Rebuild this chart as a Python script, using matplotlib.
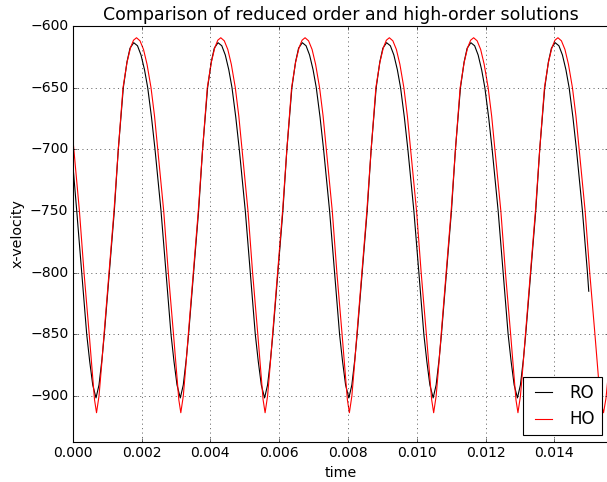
import numpy as np
import matplotlib
matplotlib.use("Agg")
import matplotlib.pyplot as plt

# time in ms (converted to s when plotting)
t_ro_ms = [0.000, 0.117, 0.262, 0.407, 0.494, 0.582,
           0.677, 0.764, 0.851, 0.918, 1.064, 1.209, 1.325, 1.471, 1.578, 1.665, 1.773,
           1.883, 1.985, 2.087, 2.180, 2.290, 2.392, 2.567, 2.712, 2.857, 2.944, 3.032,
           3.127, 3.214, 3.301, 3.368, 3.514, 3.659, 3.775, 3.921, 4.028, 4.115, 4.223,
           4.333, 4.435, 4.537, 4.630, 4.740, 4.842, 5.017, 5.162, 5.307, 5.394, 5.482,
           5.577, 5.664, 5.751, 5.818, 5.964, 6.109, 6.225, 6.371, 6.478, 6.565, 6.673,
           6.783, 6.885, 6.987, 7.080, 7.190, 7.292, 7.467, 7.612, 7.757, 7.844, 7.932,
           8.027, 8.114, 8.201, 8.268, 8.414, 8.559, 8.675, 8.821, 8.928, 9.015, 9.123,
           9.233, 9.335, 9.437, 9.530, 9.640, 9.742, 9.917, 10.062, 10.207, 10.294, 10.382,
           10.477, 10.564, 10.651, 10.718, 10.864, 11.009, 11.125, 11.271, 11.378, 11.465, 11.573,
           11.683, 11.785, 11.887, 11.980, 12.090, 12.192, 12.367, 12.512, 12.657, 12.744, 12.832,
           12.927, 13.014, 13.101, 13.168, 13.314, 13.459, 13.575, 13.721, 13.828, 13.915, 14.023,
           14.133, 14.235, 14.337, 14.430, 14.540, 14.642, 14.817, 14.962, 15.000]
v_ro = [-711, -750, -800, -850, -872, -891,
        -901.5, -891, -870, -850, -800, -750, -700, -650, -629, -618, -613.5,
        -616, -623.5, -635.5, -650, -674, -700, -750, -800, -850, -872, -891,
        -901.5, -891, -870, -850, -800, -750, -700, -650, -629, -618, -613.5,
        -616, -623.5, -635.5, -650, -674, -700, -750, -800, -850, -872, -891,
        -901.5, -891, -870, -850, -800, -750, -700, -650, -629, -618, -613.5,
        -616, -623.5, -635.5, -650, -674, -700, -750, -800, -850, -872, -891,
        -901.5, -891, -870, -850, -800, -750, -700, -650, -629, -618, -613.5,
        -616, -623.5, -635.5, -650, -674, -700, -750, -800, -850, -872, -891,
        -901.5, -891, -870, -850, -800, -750, -700, -650, -629, -618, -613.5,
        -616, -623.5, -635.5, -650, -674, -700, -750, -800, -850, -872, -891,
        -901.5, -891, -870, -850, -800, -750, -700, -650, -629, -618, -613.5,
        -616, -623.5, -635.5, -650, -674, -700, -750, -800, -815]

t_ho_ms = [0.000, 0.195, 0.329, 0.480, 0.576, 0.634,
           0.692, 0.764, 0.837, 0.910, 1.055, 1.200, 1.325, 1.462, 1.578, 1.680, 1.767, 1.854,
           1.956, 2.058, 2.160, 2.276, 2.378, 2.471, 2.645, 2.779, 2.930, 3.026, 3.084,
           3.142, 3.214, 3.287, 3.360, 3.505, 3.650, 3.775, 3.912, 4.028, 4.130, 4.217, 4.304,
           4.406, 4.508, 4.610, 4.726, 4.828, 4.921, 5.095, 5.229, 5.380, 5.476, 5.534,
           5.592, 5.664, 5.737, 5.810, 5.955, 6.100, 6.225, 6.362, 6.478, 6.580, 6.667, 6.754,
           6.856, 6.958, 7.060, 7.176, 7.278, 7.371, 7.545, 7.679, 7.830, 7.926, 7.984,
           8.042, 8.114, 8.187, 8.260, 8.405, 8.550, 8.675, 8.812, 8.928, 9.030, 9.117, 9.204,
           9.306, 9.408, 9.510, 9.626, 9.728, 9.821, 9.995, 10.129, 10.280, 10.376, 10.434,
           10.492, 10.564, 10.637, 10.710, 10.855, 11.000, 11.125, 11.262, 11.378, 11.480, 11.567, 11.654,
           11.756, 11.858, 11.960, 12.076, 12.178, 12.271, 12.445, 12.579, 12.730, 12.826, 12.884,
           12.942, 13.014, 13.087, 13.160, 13.305, 13.450, 13.575, 13.712, 13.828, 13.930, 14.017, 14.104,
           14.206, 14.308, 14.410, 14.526, 14.628, 14.721, 14.895, 15.029, 15.180, 15.276, 15.334,
           15.430, 15.500, 15.560]
v_ho = [-690, -750, -800, -850, -883, -903,
        -913.5, -900, -876, -850, -800, -750, -700, -650, -629.5, -617.5, -611.5, -609.5,
        -612, -619, -631, -650, -673, -700, -750, -800, -850, -883, -903,
        -913.5, -900, -876, -850, -800, -750, -700, -650, -629.5, -617.5, -611.5, -609.5,
        -612, -619, -631, -650, -673, -700, -750, -800, -850, -883, -903,
        -913.5, -900, -876, -850, -800, -750, -700, -650, -629.5, -617.5, -611.5, -609.5,
        -612, -619, -631, -650, -673, -700, -750, -800, -850, -883, -903,
        -913.5, -900, -876, -850, -800, -750, -700, -650, -629.5, -617.5, -611.5, -609.5,
        -612, -619, -631, -650, -673, -700, -750, -800, -850, -883, -903,
        -913.5, -900, -876, -850, -800, -750, -700, -650, -629.5, -617.5, -611.5, -609.5,
        -612, -619, -631, -650, -673, -700, -750, -800, -850, -883, -903,
        -913.5, -900, -876, -850, -800, -750, -700, -650, -629.5, -617.5, -611.5, -609.5,
        -612, -619, -631, -650, -673, -700, -750, -800, -850, -883, -903,
        -913.5, -902, -885]

plt.style.use("classic")
plt.rcParams["xtick.labelsize"] = 12.6
plt.rcParams["ytick.labelsize"] = 12.6
plt.rcParams["axes.labelsize"] = 12.8

fig = plt.figure(figsize=(607 / 80, 482 / 80), dpi=80)
ax = fig.add_axes([0.1198, 0.0836, 0.8830, 0.8624])

t_ro = np.array(t_ro_ms) * 1e-3
t_ho = np.array(t_ho_ms) * 1e-3
ax.plot(t_ro, v_ro, color="k", label="RO")
ax.plot(t_ho, v_ho, color="r", label="HO")

ax.set_xlim(0, 0.01558)
ax.set_ylim(-937, -600)
ax.grid(True)
ax.set_xlabel("time")
ax.set_ylabel("x-velocity")
ax.set_title("Comparison of reduced order and high-order solutions", fontsize=15.6)
ax.legend(loc="lower right", fontsize=15, handlelength=1.6, borderaxespad=0.4)

fig.savefig("out.png", dpi=80)
